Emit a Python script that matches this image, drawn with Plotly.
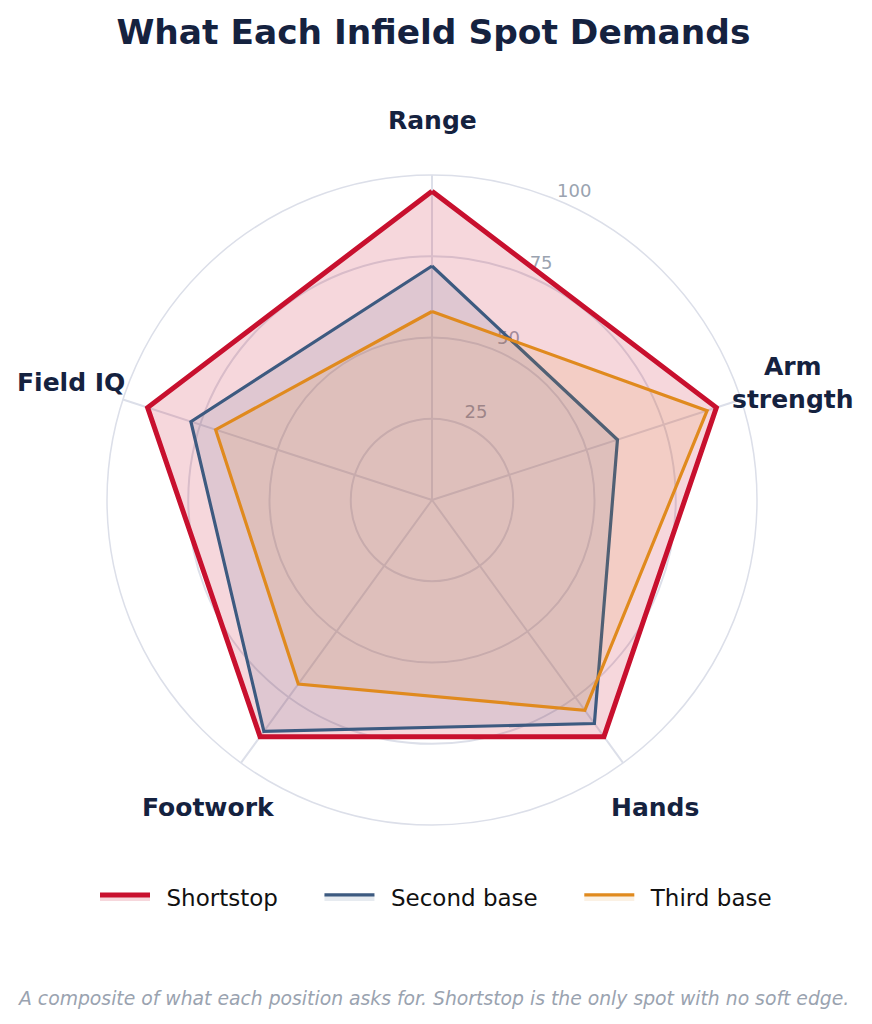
import math
import plotly.graph_objects as go

categories = ["Range", "Arm strength", "Hands", "Footwork", "Field IQ"]
category_labels = ["Range", "Arm<br>strength", "Hands", "Footwork", "Field IQ"]
shortstop = [95, 92, 90, 90, 92]
second_base = [72, 60, 85, 88, 78]
third_base = [58, 89, 80, 70, 70]
radial_ticks = [25, 50, 75, 100]

series = [
    ("Shortstop", shortstop, "#C8102E", "rgba(200,16,46,0.17)", 5),
    ("Second base", second_base, "#3D5A80", "rgba(61,90,128,0.12)", 3.2),
    ("Third base", third_base, "#E08A1E", "rgba(224,138,30,0.12)", 3.2),
]
lead = "\u2002"
pad = "&nbsp;" * 5

W, H = 872, 1024
cx, cy, R = 432, 500, 325  # polar layout in px
label_r = R + 55
n = len(categories)
angles = [360 * k / n for k in range(n)]  # clockwise from top
tick_font = dict(size=18, color="#9aa3b0", family="DejaVu Sans")

fig = go.Figure()
annotations = []

# radial tick labels (inner ones drawn first so they sit beneath the series lines)
tick_dir = math.radians(66.4)
tick_off = (11.5, -12)
tr, tt, tx = [], [], []
for v in radial_ticks:
    d = v / 100 * R
    dx = d * math.cos(tick_dir) + tick_off[0]
    dy = -d * math.sin(tick_dir) + tick_off[1]
    rr = 100 * math.hypot(dx, dy) / R
    if rr <= 100:
        tr.append(rr)
        tt.append(math.degrees(math.atan2(dx, -dy)))
        tx.append(str(v))
    else:
        annotations.append(dict(text=str(v), x=(cx + dx) / W, y=1 - (cy + dy) / H,
                                xref="paper", yref="paper", xanchor="center", yanchor="middle",
                                showarrow=False, font=tick_font))
fig.add_trace(go.Scatterpolar(
    r=tr, theta=tt, mode="text", text=tx,
    textposition="middle center", textfont=tick_font,
    cliponaxis=False, showlegend=False, hoverinfo="skip"))

for i, (name, vals, color, fill, w) in enumerate(series):
    fig.add_trace(go.Scatterpolar(
        r=vals + [vals[0]],
        theta=angles + [angles[0]],
        name=lead + name + (pad if i < len(series) - 1 else ""),
        mode="lines",
        line=dict(color=color, width=w),
        fill="toself",
        fillcolor=fill,
        customdata=categories + [categories[0]],
        hovertemplate="%{customdata}: %{r}<extra>" + name + "</extra>",
    ))

for k, lab in enumerate(category_labels):
    a = math.radians(90 - angles[k])
    px = cx + label_r * math.cos(a)
    py = cy - label_r * math.sin(a)
    annotations.append(dict(text="<b>" + lab + "</b>", x=px / W, y=1 - py / H,
                            xref="paper", yref="paper", xanchor="center", yanchor="middle",
                            showarrow=False, align="center",
                            font=dict(size=25, color="#15223f", family="DejaVu Sans")))

annotations.append(dict(text="<i>A composite of what each position asks for. Shortstop is the only spot with no soft edge.</i>",
                        x=0.497, xanchor="center", y=1 - 998 / H, yanchor="middle",
                        xref="paper", yref="paper", showarrow=False,
                        font=dict(size=18.8, color="#9aa3b0")))

fig.update_layout(
    width=W, height=H,
    margin=dict(l=0, r=0, t=0, b=0),
    paper_bgcolor="white",
    font=dict(family="DejaVu Sans", color="#15223f"),
    title=dict(text="<b>What Each Infield Spot Demands</b>", x=0.497, xanchor="center",
               y=1 - 32 / H, yanchor="middle",
               font=dict(size=34.4, color="#15223f", family="DejaVu Sans")),
    polar=dict(
        domain=dict(x=[(cx - R) / W, (cx + R) / W], y=[1 - (cy + R) / H, 1 - (cy - R) / H]),
        bgcolor="white",
        radialaxis=dict(range=[0, 100], tickvals=radial_ticks, showticklabels=False,
                        showline=False, ticks="",
                        gridcolor="#dcdfe9", gridwidth=1.5),
        angularaxis=dict(type="linear", thetaunit="degrees",
                         direction="clockwise", rotation=90,
                         tickvals=angles, showticklabels=False, ticks="",
                         linecolor="#dcdfe9", linewidth=1.5,
                         gridcolor="#dcdfe9", gridwidth=1.5),
    ),
    legend=dict(orientation="h", x=0.5, xanchor="center", y=1 - 897 / H, yanchor="middle",
                font=dict(size=23, color="#111111"), itemwidth=50),
    annotations=annotations,
)

fig.write_html("out.html")
